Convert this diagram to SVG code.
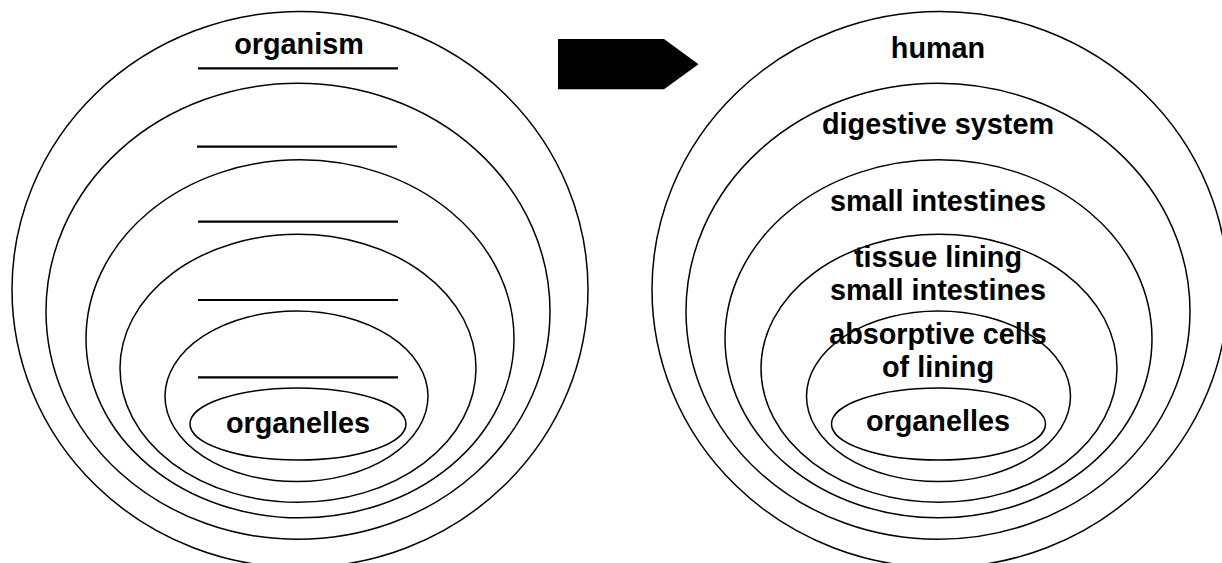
<svg xmlns="http://www.w3.org/2000/svg" width="1222" height="563" viewBox="0 0 1222 563">
<style>
.ring{fill:none;stroke:#000;stroke-width:1.5}
.blank{stroke:#000;stroke-width:2.2}
.lbl{font-family:"Liberation Sans",Arial,sans-serif;font-weight:bold;font-size:28.8px;fill:#000;text-anchor:middle}
</style>
<rect width="1222" height="563" fill="#fff"/>
<g id="left-diagram">
  <g id="l-organism"><ellipse class="ring" cx="300" cy="289.5" rx="288" ry="278"/><text class="lbl" x="299" y="54">organism</text><line class="blank" x1="198" y1="68.3" x2="398" y2="68.3"/></g>
  <g id="l-level2"><ellipse class="ring" cx="298" cy="311.3" rx="252" ry="228"/><line class="blank" x1="197" y1="146.7" x2="397" y2="146.7"/></g>
  <g id="l-level3"><ellipse class="ring" cx="300" cy="338.8" rx="214" ry="179"/><line class="blank" x1="198" y1="221.7" x2="398" y2="221.7"/></g>
  <g id="l-level4"><ellipse class="ring" cx="298" cy="368.3" rx="178" ry="134"/><line class="blank" x1="198" y1="300" x2="398" y2="300"/></g>
  <g id="l-level5"><ellipse class="ring" cx="296.5" cy="396.3" rx="131.5" ry="85.3"/><line class="blank" x1="198" y1="377.3" x2="398" y2="377.3"/></g>
  <g id="l-organelles"><ellipse class="ring" cx="298" cy="424" rx="108" ry="36"/><text class="lbl" x="298" y="433">organelles</text></g>
</g>
<g id="connectors">
  <polygon points="558,39 664,39 698.5,64.3 664,89.3 558,89.3" fill="#000"/>
</g>
<g id="right-diagram">
  <g id="r-human"><ellipse class="ring" cx="940" cy="289.5" rx="288" ry="278"/><text class="lbl" x="938" y="58">human</text></g>
  <g id="r-digestive"><ellipse class="ring" cx="938" cy="311.3" rx="252" ry="228"/><text class="lbl" x="938" y="134">digestive system</text></g>
  <g id="r-intestines"><ellipse class="ring" cx="938.5" cy="338.8" rx="213.5" ry="179"/><text class="lbl" x="938" y="211">small intestines</text></g>
  <g id="r-tissue"><ellipse class="ring" cx="939" cy="368.3" rx="178" ry="134"/><text class="lbl" x="938" y="266.5">tissue lining</text><text class="lbl" x="938" y="300">small intestines</text></g>
  <g id="r-cells"><ellipse class="ring" cx="938.5" cy="396.3" rx="132" ry="85.3"/><text class="lbl" x="938" y="343.5">absorptive cells</text><text class="lbl" x="938" y="377">of lining</text></g>
  <g id="r-organelles"><ellipse class="ring" cx="938.5" cy="424" rx="107" ry="36"/><text class="lbl" x="938" y="430.5">organelles</text></g>
</g>
</svg>
